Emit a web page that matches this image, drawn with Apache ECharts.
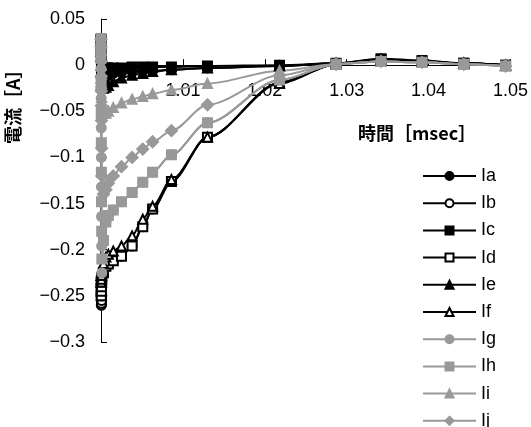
<!DOCTYPE html>
<html>
<head>
<meta charset="utf-8">
<script src="https://cdn.jsdelivr.net/npm/echarts@6/dist/echarts.min.js"></script>
<style>
  html, body { margin: 0; padding: 0; background: #fff; }
  #main { width: 531px; height: 427px; }
</style>
</head>
<body>
<div id="main"></div>
<script>
  // time [msec]
  var times = [1.0, 1.00001, 1.00002, 1.00003, 1.00004, 1.00005, 1.00006, 1.00008, 1.0001,
    1.0003, 1.0006, 1.0009, 1.0015, 1.0025, 1.0038, 1.0051, 1.0063, 1.0086, 1.013,
    1.0218, 1.0287, 1.0342, 1.0392, 1.0443, 1.0494];

  // currents [A]
  var ia = [0.028, 0.02, 0.012, 0.005, -0.002, -0.008, -0.012, -0.015, -0.017,
    -0.016, -0.013, -0.011, -0.009, -0.008, -0.007, -0.006, -0.006, -0.005, -0.003,
    -0.001, 0.002, 0.006, 0.004, 0.002, 0.0];
  var ib = [0.028, -0.24, -0.25, -0.255, -0.26, -0.26, -0.258, -0.255, -0.25,
    -0.225, -0.218, -0.2155, -0.212, -0.207, -0.196, -0.175, -0.156, -0.126, -0.078,
    -0.019, 0.001, 0.006, 0.004, 0.002, 0.0];
  var ic = [0.028, 0.025, 0.02, 0.015, 0.01, 0.006, 0.003, 0.0, -0.002,
    -0.003, -0.003, -0.003, -0.003, -0.003, -0.002, -0.002, -0.002, -0.002, -0.001,
    0.0, 0.002, 0.007, 0.005, 0.002, 0.0];
  var id = [0.028, -0.235, -0.245, -0.25, -0.25, -0.245, -0.24, -0.235, -0.23,
    -0.225, -0.218, -0.2155, -0.212, -0.207, -0.196, -0.175, -0.156, -0.126, -0.078,
    -0.019, 0.001, 0.006, 0.004, 0.002, 0.0];
  var ie = [0.028, 0.015, 0.0, -0.008, -0.014, -0.018, -0.021, -0.023, -0.024,
    -0.025, -0.024, -0.022, -0.018, -0.014, -0.011, -0.009, -0.007, -0.005, -0.003,
    -0.001, 0.002, 0.006, 0.004, 0.002, 0.0];
  var iF = [0.028, -0.228, -0.232, -0.235, -0.235, -0.232, -0.228, -0.225, -0.222,
    -0.215, -0.208, -0.205, -0.2015, -0.196, -0.185, -0.167, -0.153, -0.124, -0.078,
    -0.02, 0.001, 0.006, 0.004, 0.002, 0.0];
  var ig = [0.028, -0.004, -0.036, -0.068, -0.1, -0.132, -0.164, -0.196, -0.225,
    -0.19, -0.17, -0.163, -0.157, -0.148, -0.138, -0.127, -0.116, -0.097, -0.0625,
    -0.016, 0.001, 0.004, 0.003, 0.001, -0.001];
  var ih = [0.028, 0.012, -0.02, -0.052, -0.084, -0.116, -0.148, -0.18, -0.21,
    -0.19, -0.17, -0.163, -0.157, -0.148, -0.138, -0.127, -0.116, -0.097, -0.0625,
    -0.016, 0.001, 0.004, 0.003, 0.001, -0.001];
  var ii = [0.028, 0.024, 0.016, 0.008, 0.0, -0.01, -0.02, -0.035, -0.047,
    -0.052, -0.052, -0.05, -0.046, -0.041, -0.037, -0.034, -0.031, -0.027, -0.02,
    -0.006, 0.001, 0.004, 0.003, 0.001, -0.001];
  var ij = [0.028, 0.02, 0.004, -0.012, -0.028, -0.044, -0.06, -0.09, -0.12,
    -0.14, -0.135, -0.128, -0.12, -0.11, -0.1, -0.091, -0.083, -0.071, -0.043,
    -0.011, 0.001, 0.004, 0.003, 0.001, -0.001];

  var names = ['Ia', 'Ib', 'Ic', 'Id', 'Ie', 'If', 'Ig', 'Ih', 'Ii', 'Ij'];
  var values = [ia, ib, ic, id, ie, iF, ig, ih, ii, ij];
  var symbols = ['circle', 'emptyCircle', 'rect', 'emptyRect', 'triangle', 'emptyTriangle',
    'circle', 'rect', 'triangle', 'diamond'];

  var xMin = 1.0, xMax = 1.05, xStep = 0.01;
  var yMin = -0.3, yMax = 0.05, yStep = 0.05;

  var font = "'Liberation Sans', 'Noto Sans CJK JP', sans-serif";

  var gridTop = 19, gridBottom = 85, H = 427;
  var plotH = H - gridTop - gridBottom;
  // onZero does not move the x axis here, so shift it up to y = 0 by hand
  var zeroOffset = -plotH * (0 - yMin) / (yMax - yMin);

  var myChart = echarts.init(document.getElementById('main'));

  var series = names.map(function (n, k) {
    var col = k < 6 ? '#000000' : '#999999';
    return {
      name: n,
      type: 'line',
      smooth: 0.3,
      smoothMonotone: 'x',
      symbol: symbols[k],
      symbolSize: symbols[k] == 'diamond' ? 11 : 9,
      lineStyle: { color: col, width: 2 },
      itemStyle: { color: col, borderColor: col, borderWidth: 2 },
      data: times.map(function (t, i) { return [t, values[k][i]]; })
    };
  });

  var option = {
    animation: false,
    textStyle: { fontFamily: font, color: '#000' },
    grid: { left: 101, right: 19, top: gridTop, bottom: gridBottom },
    xAxis: {
      type: 'value',
      min: xMin, max: xMax, interval: xStep,
      position: 'bottom',
      offset: zeroOffset,
      axisLine: { onZero: false, lineStyle: { color: '#000', width: 1 } },
      axisTick: { inside: true, length: 6, lineStyle: { color: '#000' } },
      splitLine: { show: false },
      axisLabel: { margin: 17, fontSize: 18, color: '#000', fontFamily: font }
    },
    yAxis: {
      type: 'value',
      min: yMin, max: yMax, interval: yStep,
      axisLine: { show: true, onZero: false, lineStyle: { color: '#000', width: 1 } },
      axisTick: { show: true, inside: true, length: 6, lineStyle: { color: '#000' } },
      splitLine: { show: false },
      axisLabel: {
        margin: 16, fontSize: 18, color: '#000', fontFamily: font,
        formatter: function (v) {
          var s = String(Math.round(v * 100) / 100);
          return s.replace('-', '\u2212');
        }
      }
    },
    legend: {
      orient: 'vertical',
      left: 417, top: 162, height: 265,
      itemWidth: 53, itemHeight: 10, itemGap: 9.2,
      textStyle: { fontSize: 18, color: '#000', fontFamily: font },
      data: names
    },
    graphic: [
      {
        type: 'text', left: 358, top: 124,
        style: { text: '時間［msec］', font: "bold 18px 'Noto Sans CJK JP'", fill: '#000' }
      },
      {
        type: 'text', x: 4, y: 144, rotation: Math.PI / 2,
        style: { text: '電流［A］', font: "bold 18px 'Noto Sans CJK JP'", fill: '#000' }
      }
    ],
    series: series
  };

  myChart.setOption(option, true);
</script>
</body>
</html>
